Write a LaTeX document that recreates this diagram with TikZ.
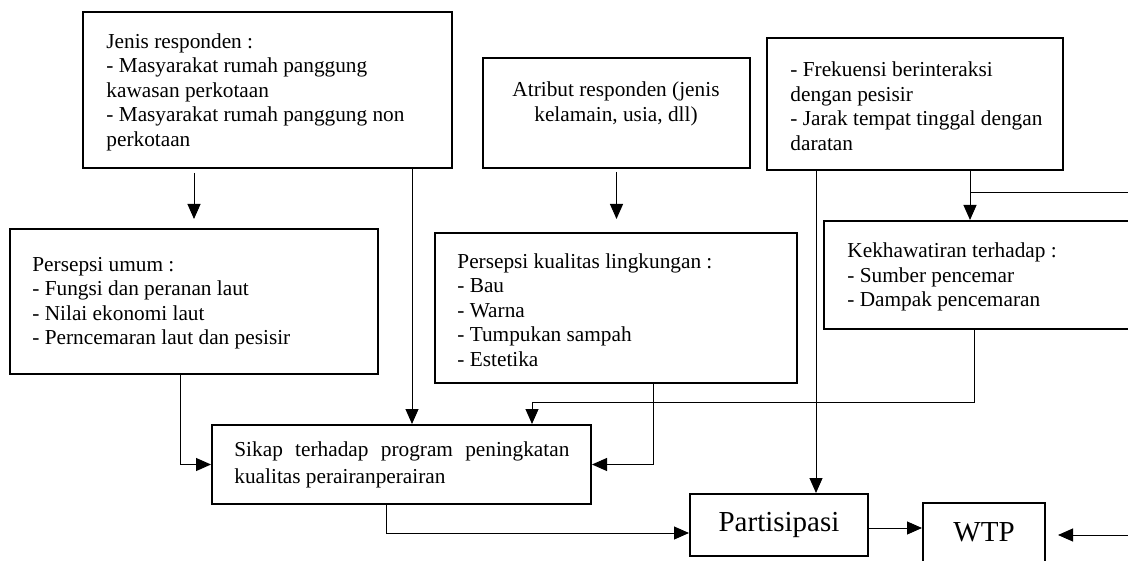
\documentclass[tikz,border=0pt]{standalone}
\usepackage{fontspec}
\setmainfont{Liberation Serif}
\usetikzlibrary{arrows.meta,calc,fit}
\begin{document}
\begin{tikzpicture}[x=0.5pt,y=-0.5pt,
  box/.style={draw,line width=1pt,inner sep=0pt},
  txt/.style={inner sep=0pt,align=left,font=\fontsize{10.65}{12.25}\selectfont},
  big/.style={inner sep=0pt,font=\fontsize{14.5}{16}\selectfont},
  con/.style={line width=0.5pt},
  arr/.style={con,-{Triangle[length=7.5pt,width=6.5pt]}}]
\useasboundingbox (0,0) rectangle (1128,561);
% boxes
\node[box,fit={(83,12) (452,168)}] (A) {};
\node[box,fit={(10,229) (378,374)}] (B) {};
\node[box,fit={(483,58) (750,168)}] (C1) {};
\node[box,fit={(435,233) (797,383)}] (C2) {};
\node[box,fit={(767,38) (1063,170)}] (D) {};
\node[box,fit={(824,221) (1140,329)}] (C3) {};
\node[box,fit={(212,425) (591,504)}] (S) {};
\node[box,fit={(690,494) (868,556)}] (P) {};
\node[box,fit={(923,503) (1045,575)}] (W) {};
% texts
\node[txt,anchor=west] (tA) at (106,92) {Jenis responden :\\- Masyarakat rumah panggung\\kawasan perkotaan\\- Masyarakat rumah panggung non\\perkotaan};
\node[txt,anchor=west] (tB) at (32,303) {Persepsi umum :\\- Fungsi dan peranan laut\\- Nilai ekonomi laut\\- Perncemaran laut dan pesisir};
\node[txt,align=center] (tC1) at (616,104) {Atribut responden (jenis\\kelamain, usia, dll)};
\node[txt,anchor=west] (tC2) at (457,310) {Persepsi kualitas lingkungan :\\- Bau\\- Warna\\- Tumpukan sampah\\- Estetika};
\node[txt,anchor=west] (tD) at (790,106) {- Frekuensi berinteraksi\\dengan pesisir\\- Jarak tempat tinggal dengan\\daratan};
\node[txt,anchor=west] (tC3) at (847,277) {Kekhawatiran terhadap :\\- Sumber pencemar\\- Dampak pencemaran};
\node[txt,anchor=west,text width=167.5pt,align=justify,font=\fontsize{10.65}{13.5}\selectfont] (tS) at (234,465) {Sikap terhadap program peningkatan\linebreak kualitas perairanperairan};
\node[big] (tP) at (P.center) {Partisipasi};
\node[big] (tW) at (984,532) {WTP};
% connector points
\coordinate (a1) at ($(A.south)+(144.5,0)$);
\coordinate (b1) at ($(B.south)+(-14,0)$);
\coordinate (c2b) at ($(C2.south)+(37,0)$);
\coordinate (c3b) at ($(C3.south west)+(151,0)$);
\coordinate (s2) at ($(S.north west)+(321,0)$);
\coordinate (sb) at ($(S.south west)+(175,0)$);
\coordinate (d1) at ($(D.south west)+(50,0)$);
\coordinate (d2) at ($(D.south west)+(204,0)$);
\coordinate (pw) at ($(P.west)+(0,8)$);
\coordinate (pe) at ($(P.east)+(0,3)$);
\coordinate (e1) at ($(d2)+(170,22)$);
\coordinate (e2) at (1135,535);
% connectors
\draw[arr,shorten <=2pt,shorten >=4.5pt] (A.south -| B.north) -- (B.north);
\draw[arr] (a1) -- (a1 |- S.north);
\draw[arr,shorten <=1.5pt,shorten >=6.5pt] (C1.south) -- (C1.south |- C2.north);
\draw[arr] (b1) |- (S.west);
\draw[arr] (c2b) |- (S.east);
\draw[arr] (c3b) -- ++(0,72) -| (s2);
\draw[arr] (d1) -- (d1 |- P.north);
\draw[arr] (d2) -- (d2 |- C3.north);
\draw[con] (d2 |- e1) -- (e1);
\draw[arr] (sb) |- (pw);
\draw[arr] (pe) -- (pe -| W.west);
\draw[arr,shorten >=6pt] (e2) -- (e2 -| W.east);
\end{tikzpicture}
\end{document}
